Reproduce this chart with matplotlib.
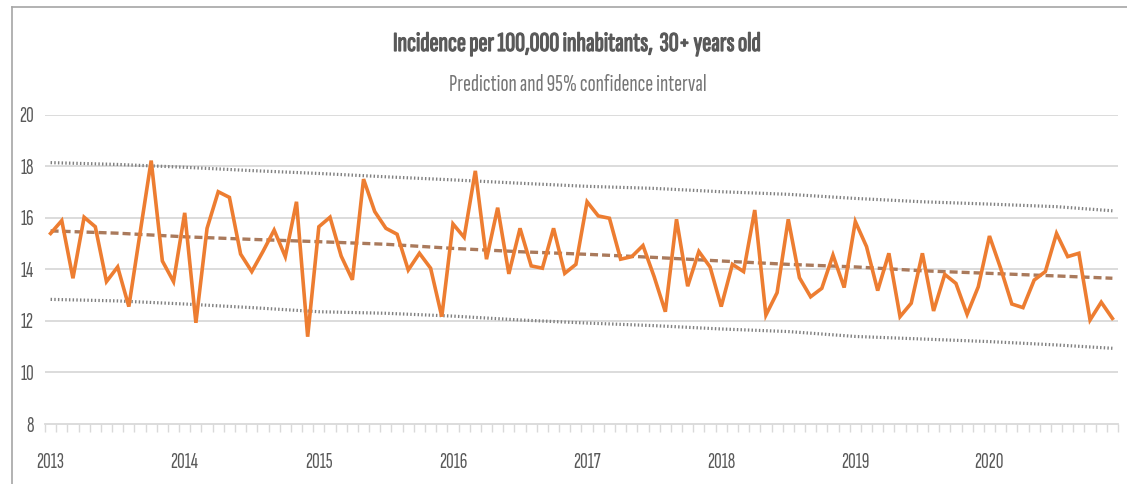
import numpy as np
import matplotlib
matplotlib.use("Agg")
import matplotlib.pyplot as plt
import matplotlib.patheffects as pe
from matplotlib.lines import Line2D
from matplotlib.ticker import FixedLocator, NullFormatter

FONTS = ['Sofia Sans Extra Condensed', 'PT Sans Narrow', 'DejaVu Sans']
plt.rcParams['font.family'] = FONTS

# Monthly incidence per 100,000 inhabitants, Jan 2013 - Dec 2020
incidence = [
    15.40, 15.90, 13.66, 16.03, 15.66, 13.53, 14.10, 12.56, 15.40, 18.23, 14.33, 13.53,  # 2013
    16.20, 11.93, 15.60, 17.02, 16.80, 14.60, 13.92, 14.70, 15.53, 14.50, 16.63, 11.39,  # 2014
    15.66, 16.03, 14.52, 13.60, 17.51, 16.25, 15.60, 15.37, 13.98, 14.63, 14.05, 12.17,  # 2015
    15.77, 15.25, 17.83, 14.40, 16.40, 13.83, 15.60, 14.14, 14.05, 15.60, 13.85, 14.20,  # 2016
    16.63, 16.08, 15.99, 14.40, 14.50, 14.93, 13.72, 12.36, 15.95, 13.35, 14.70, 14.10,  # 2017
    12.56, 14.20, 13.92, 16.31, 12.23, 13.10, 15.95, 13.68, 12.94, 13.27, 14.56, 13.30,  # 2018
    15.86, 14.89, 13.18, 14.63, 12.17, 12.69, 14.63, 12.39, 13.81, 13.46, 12.26, 13.33,  # 2019
    15.30, 14.05, 12.66, 12.52, 13.59, 13.92, 15.40, 14.50, 14.63, 12.04, 12.73, 12.10,  # 2020
]

# Model prediction and 95% confidence bounds, read every six months (month index)
trend_months = [0, 6, 12, 18, 24, 30, 36, 42, 48, 54, 60, 66, 72, 78, 84, 90, 95]
prediction = [15.50, 15.41, 15.27, 15.17, 15.08, 14.98, 14.82, 14.69, 14.59,
              14.47, 14.33, 14.20, 14.10, 13.95, 13.85, 13.75, 13.66]
upper_ci = [18.15, 18.08, 17.97, 17.84, 17.73, 17.60, 17.48, 17.35, 17.23,
            17.15, 17.02, 16.92, 16.76, 16.63, 16.54, 16.44, 16.28]
lower_ci = [12.84, 12.78, 12.66, 12.52, 12.36, 12.30, 12.19, 12.04, 11.92,
            11.82, 11.69, 11.59, 11.40, 11.30, 11.20, 11.07, 10.94]

years = ['2013', '2014', '2015', '2016', '2017', '2018', '2019', '2020']
y_ticks = [8, 10, 12, 14, 16, 18, 20]

title = 'Incidence per 100,000 inhabitants,  30+ years old'
subtitle = 'Prediction and 95% confidence interval'

W, H = 1127, 484
fig = plt.figure(figsize=(W / 100, H / 100), dpi=100)
ax = fig.add_axes([45 / W, 1 - 424 / H, 1073 / W, (424 - 115) / H])
renderer = fig.canvas.get_renderer()


def fit_width(text_artist, width_px):
    """Scale a text's font size so that it spans the given width in pixels."""
    for _ in range(4):
        w = text_artist.get_window_extent(renderer).width
        text_artist.set_fontsize(text_artist.get_fontsize() * width_px / w)
    return text_artist.get_fontsize()


n = len(incidence)
x = np.arange(n)

grid_c = '#d9d9d9'
text_c = '#595959'

for yv in y_ticks[1:]:
    ax.axhline(yv, color=grid_c, lw=1.3, zorder=0)

ax.plot(trend_months, upper_ci, color='#808080', lw=2.3, ls=(0, (0.45, 0.7)), zorder=2)
ax.plot(trend_months, lower_ci, color='#808080', lw=2.3, ls=(0, (0.45, 0.7)), zorder=2)
ax.plot(trend_months, prediction, color='#aa7a5c', lw=2.4, ls=(0, (2.4, 1.2)), zorder=3)
ax.plot(x, incidence, color='#ED7D31', lw=2.6, solid_joinstyle='miter', zorder=4)

ax.set_xlim(-0.5, n - 0.5)
ax.set_ylim(8, 20)

# tick label size taken from the width of a year label
probe = fig.text(0, 0, '2013', fontsize=12)
tick_fs = fit_width(probe, 28)
probe.remove()

ax.set_yticks(y_ticks)
ax.set_yticklabels([str(v) for v in y_ticks])
ax.tick_params(axis='y', length=0, pad=8, labelsize=tick_fs, labelcolor=text_c)

ax.set_xticks(np.arange(0, n, 12))
ax.set_xticklabels(years)
ax.tick_params(axis='x', which='major', length=0, pad=21, labelsize=tick_fs, labelcolor=text_c)
ax.xaxis.set_minor_locator(FixedLocator(np.arange(-0.5, n, 1)))
ax.xaxis.set_minor_formatter(NullFormatter())
ax.tick_params(axis='x', which='minor', length=5.5, width=1, color=grid_c, direction='out')

for side in ['top', 'right', 'left']:
    ax.spines[side].set_visible(False)
ax.spines['bottom'].set_color(grid_c)
ax.spines['bottom'].set_linewidth(1.3)

t1 = fig.text(577 / W, 1 - 44 / H, title, ha='center', va='center',
              fontsize=16, fontweight='bold', color=text_c)
fit_width(t1, 368)
t1.set_path_effects([pe.withStroke(linewidth=0.9, foreground=text_c)])
t2 = fig.text(578 / W, 1 - 85 / H, subtitle, ha='center', va='center',
              fontsize=14, color='#767676')
fit_width(t2, 258)

# chart area border (left and top edges)
fig.add_artist(Line2D([12 / W, 12 / W], [0, 1 - 7 / H], color='#a6a6a6', lw=1.2))
fig.add_artist(Line2D([12 / W, 1], [1 - 7 / H, 1 - 7 / H], color='#a6a6a6', lw=1.2))

fig.savefig('out.png', dpi=100, facecolor='white')
